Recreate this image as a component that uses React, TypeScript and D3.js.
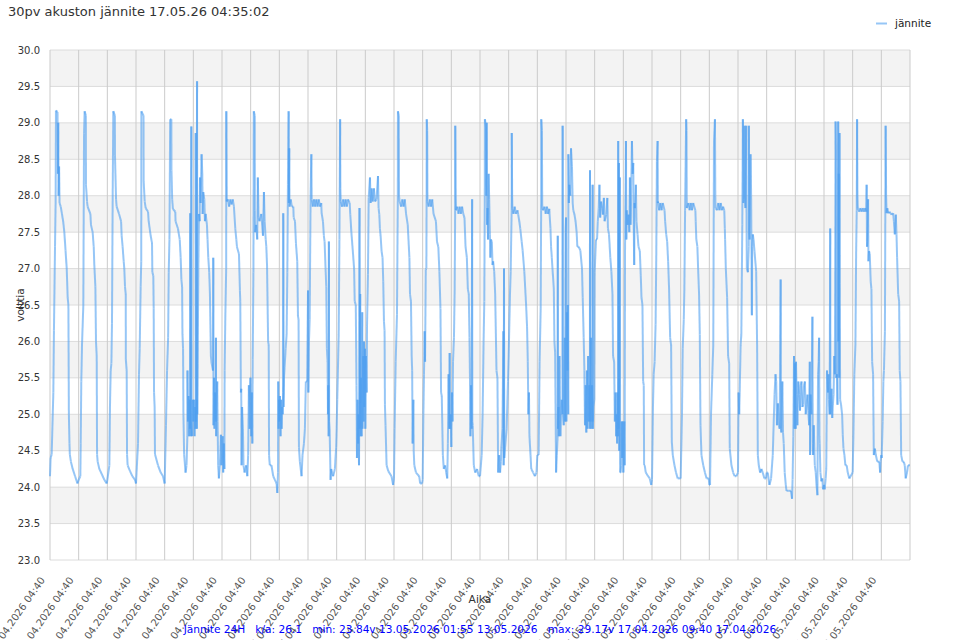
import * as d3 from 'd3';

// Each day runs from 04:40 to 04:40 the next morning.
// Points are [hours after 04:40, volts].
type Reading = [number, number];

const apr17: Reading[] = [[0,24.15],[0.5,24.4],[1.4,24.45],[2.8,25.3],[3.3,26.15],[4.2,27.3],[4.7,27.9],[5.0,29.17],[6.3,29.15],[6.6,28.3],[6.9,29.0],[7.2,28.0],[7.6,28.4],[8.0,27.9],[9,27.85],[10,27.75],[11,27.65],[12,27.5],[13,27.25],[14,27.0],[14.8,26.6],[15.4,26.5],[15.8,25.0],[16.3,24.6],[16.6,24.45],[17.5,24.35],[19,24.25],[21,24.15],[23,24.05]];
const apr18: Reading[] = [[0,24.1],[1.4,24.15],[1.7,24.6],[2.2,25.45],[2.8,25.95],[3.6,26.35],[3.9,26.5],[4.5,28.85],[5.0,29.16],[6.0,29.1],[6.1,28.15],[7.0,27.92],[7.5,27.85],[9.8,27.75],[10.3,27.6],[11.7,27.5],[12.6,27.3],[13.1,27.05],[14.0,26.75],[14.5,26.0],[15.1,25.8],[15.4,24.45],[15.9,24.35],[17.3,24.25],[19.3,24.18],[21.5,24.1],[23.5,24.05]];
const apr19: Reading[] = [[0,24.1],[1.7,24.3],[2.2,25.1],[2.8,25.6],[3.4,25.7],[3.9,26.25],[4.5,28.05],[5.0,29.16],[6.3,29.1],[6.4,28.55],[7.3,27.95],[7.8,27.85],[9.8,27.75],[11.5,27.65],[12.0,27.45],[12.8,27.3],[13.7,27.1],[14.2,27.0],[14.8,26.75],[15.4,26.65],[15.5,25.75],[16.2,25.6],[16.5,24.45],[17.0,24.3],[19.0,24.22],[20.9,24.15],[23.2,24.1]];
const apr20: Reading[] = [[0,24.05],[1.7,24.6],[2.5,25.55],[3.1,25.9],[3.9,26.75],[4.4,27.1],[4.5,29.16],[6.3,29.1],[6.4,28.2],[7.3,27.92],[8.1,27.83],[10.1,27.78],[10.6,27.65],[12.3,27.45],[13.4,27.35],[13.7,26.95],[14.5,26.9],[14.8,26.45],[15.1,25.3],[15.6,25.1],[15.9,24.45],[18.4,24.3],[20.7,24.2],[22.6,24.15]];
const apr21: Reading[] = [[0,24.05],[1.1,24.85],[2.0,25.6],[2.9,26.05],[3.4,26.95],[4.0,27.4],[4.6,29.05],[5.6,29.05],[5.7,28.35],[6.3,27.95],[6.9,27.82],[8.9,27.78],[9.1,27.65],[11.1,27.55],[12.6,27.4],[13.4,27.15],[14.0,26.85],[14.6,26.75],[14.9,26.1],[15.4,25.9],[15.7,25.0],[16.3,24.45],[17.5,24.2],[18.3,24.3],[19.0,24.7],[19.1,25.6],[19.5,24.9],[20.0,25.25],[20.5,24.7],[21.0,25.2],[21.3,24.8],[21.4,27.76],[21.5,24.9],[22.0,24.7],[22.2,25.2],[22.3,28.95],[22.5,24.9],[23.0,24.7],[23.5,25.2]];
const apr22: Reading[] = [[0,24.9],[0.5,25.2],[1.0,24.7],[1.5,25.1],[1.9,24.8],[2.0,28.86],[2.3,24.9],[2.8,25.2],[3.0,24.8],[3.1,29.57],[3.3,25.0],[3.6,25.7],[4.2,27.0],[4.7,27.75],[5.3,27.65],[5.6,28.25],[6.1,27.9],[6.9,28.57],[7.5,28.3],[7.8,27.75],[8.3,28.05],[9.2,27.95],[9.7,27.65],[10.3,27.75],[11.4,27.6],[11.9,27.4],[12.5,27.15],[13.3,26.95],[13.9,26.65],[14.7,25.8],[15.3,25.7],[16.5,25.6],[16.7,27.15],[16.9,24.85],[17.3,25.5],[17.7,24.8],[18.2,25.3],[18.7,24.9],[18.9,26.05],[19.1,24.7],[20.0,25.45],[20.3,24.9],[20.8,24.3],[21.4,24.12],[22.2,24.3],[23.1,24.72],[23.5,24.3]];
const apr23: Reading[] = [[0,24.4],[0.6,24.7],[1.0,24.2],[1.5,24.6],[2.0,24.25],[2.2,25.6],[2.8,26.35],[3.5,27.0],[3.6,29.16],[3.9,27.92],[5.0,27.95],[6.0,27.85],[7.0,27.95],[8.0,27.88],[9.0,27.95],[10.0,27.85],[11.1,27.55],[12.0,27.4],[12.5,27.3],[14.2,27.2],[15.0,26.7],[15.3,26.55],[15.8,25.3],[16.1,25.35],[16.4,24.3],[16.8,25.1],[17.5,24.8],[18.0,24.3],[18.9,24.2],[20.3,24.3],[21.2,24.15],[21.9,24.44],[22.5,25.4],[23.2,24.8],[23.6,25.5]];
const apr24: Reading[] = [[0,25.5],[0.5,24.7],[1.0,25.3],[1.4,24.6],[1.7,25.75],[2.3,26.95],[2.6,29.16],[3.4,29.1],[3.5,27.8],[3.7,27.5],[4.6,27.6],[5.5,27.4],[6.0,28.25],[6.6,27.7],[7.4,27.65],[8.9,27.75],[10.3,27.45],[11.1,28.05],[11.7,27.65],[12.6,27.4],[13.1,27.3],[13.7,27.05],[14.6,26.0],[15.1,25.95],[15.4,24.44],[16.0,24.3],[17.4,24.3],[18.9,24.15],[20.3,24.1],[21.7,24.05],[22.3,23.92],[22.9,24.2],[23.1,25.45],[23.4,24.8],[23.7,25.2]];
const apr25: Reading[] = [[0,24.9],[0.5,25.25],[1.0,24.7],[1.5,25.2],[1.9,24.8],[2.5,25.1],[2.8,25.0],[3.2,25.3],[3.3,27.76],[3.5,25.1],[3.9,25.5],[4.4,25.65],[5.3,25.9],[6.1,26.1],[6.7,26.95],[7.2,28.15],[7.8,29.16],[8.0,27.9],[8.3,28.65],[8.5,27.85],[9.5,27.95],[10.5,27.85],[11.7,27.85],[12.0,27.7],[13.1,27.65],[13.9,27.35],[15.0,27.1],[15.6,26.35],[16.1,26.3],[16.4,24.55],[17.2,24.35],[18.6,24.15],[19.4,24.44],[20.6,24.6],[21.4,24.8],[22.2,25.45],[23.3,25.45]];
const apr26: Reading[] = [[0,26.7],[0.3,25.3],[0.8,26.0],[1.4,26.3],[2.2,28.05],[2.8,28.57],[3.1,27.95],[4,27.85],[5,27.95],[6,27.85],[7,27.95],[8,27.85],[9,27.95],[10,27.85],[11.1,27.9],[11.4,27.76],[12.5,27.65],[13.3,27.45],[13.9,27.37],[14.7,27.0],[15.3,26.75],[15.8,25.9],[16.4,25.72],[16.7,25.0],[17.0,25.4],[17.3,24.7],[17.5,27.37],[17.7,24.9],[18.1,24.8],[18.9,24.1],[19.4,24.25],[21,24.15],[22.5,24.25],[23.6,24.55]];
const apr27: Reading[] = [[0,24.8],[0.5,25.2],[0.9,25.5],[1.7,26.1],[2.3,27.4],[2.9,29.05],[3.1,28.1],[3.4,27.92],[4.5,27.85],[5.5,27.95],[6.5,27.85],[7.5,27.95],[8.5,27.85],[9.5,27.95],[10.9,27.9],[11.4,27.74],[12.3,27.5],[13.7,27.2],[14.6,27.0],[15.1,26.55],[16.0,26.5],[16.6,25.4],[17.0,24.4],[17.5,25.2],[18.0,24.6],[18.3,25.0],[18.7,24.3],[19.0,25.2],[19.1,27.83],[19.3,24.8],[19.7,26.65],[19.9,24.7],[20.4,25.5],[20.9,24.7],[21.4,26.4],[21.6,24.8],[22.3,25.8],[22.6,24.9],[22.9,26.0],[23.2,25.1],[23.7,25.9]];
const apr28: Reading[] = [[0,24.8],[0.5,25.8],[1.1,25.3],[1.4,26.2],[2.2,26.92],[2.8,27.97],[3.9,28.25],[4.4,27.9],[5.3,28.1],[6.1,27.92],[7.2,28.1],[8.1,27.92],[9.4,27.95],[10.6,28.27],[11.1,27.83],[11.7,27.74],[12.2,27.55],[12.8,27.45],[13.6,27.24],[14.4,27.15],[15.0,26.82],[15.6,26.27],[16.1,26.15],[16.4,25.13],[16.9,24.85],[17.8,24.3],[19.2,24.22],[21.9,24.15],[23.3,24.03]];
const apr29: Reading[] = [[0,24.12],[0.5,24.8],[1.4,25.72],[2.5,26.37],[3.2,28.0],[3.3,29.16],[4.0,29.1],[4.2,28.0],[4.7,27.92],[6,27.85],[7,27.95],[8,27.85],[9,27.95],[10.1,27.75],[11.5,27.6],[12.9,27.15],[13.4,26.65],[14.2,26.55],[14.8,25.8],[15.2,25.6],[15.6,24.6],[16.2,25.2],[16.5,24.5],[17.0,24.3],[18.4,24.2],[21.1,24.15],[21.9,24.05],[23.5,24.05]];
const apr30: Reading[] = [[0,24.1],[0.6,25.0],[1.1,25.55],[1.7,26.14],[2.0,25.72],[2.6,26.99],[3.1,27.0],[3.3,28.0],[3.4,29.05],[3.8,28.9],[4.0,27.92],[5,27.85],[6,27.95],[7,27.85],[8,27.95],[9.1,27.75],[11.1,27.65],[12.0,27.37],[13.1,27.3],[14.0,26.96],[14.9,26.45],[15.4,25.3],[16.0,25.25],[16.9,24.44],[17.7,24.25],[18.9,24.3],[19.7,24.2],[20.6,24.12],[21.1,24.6],[21.7,25.55],[22.2,24.8],[22.6,25.84],[23.0,24.8],[23.4,25.0]];
const may01: Reading[] = [[0,24.55],[0.55,25.3],[1.0,24.9],[1.4,25.72],[2.2,26.05],[2.8,26.72],[3.2,27.8],[3.3,28.96],[3.6,28.0],[3.9,27.8],[5,27.85],[6,27.75],[7,27.85],[8,27.75],[9,27.85],[10,27.75],[11.0,27.7],[11.9,27.3],[13.0,27.15],[13.8,26.72],[14.6,26.65],[15.2,26.05],[15.6,25.5],[16.0,24.7],[16.5,25.4],[17.0,24.8],[17.4,27.95],[17.6,24.9],[17.9,24.85],[18.8,24.3],[20,24.2],[21.5,24.25],[23,24.15]];
const may02: Reading[] = [[0,24.15],[1.4,24.44],[2.2,25.0],[3.0,26.0],[3.6,26.55],[4.0,28.0],[4.1,29.05],[5.0,28.95],[5.3,28.0],[5.6,29.0],[5.9,27.6],[6.3,27.83],[6.7,27.4],[7.2,28.3],[7.7,27.95],[8.3,27.47],[8.7,27.15],[9.1,27.4],[9.9,27.37],[10.5,27.05],[11.0,27.1],[11.9,26.96],[12.7,26.65],[13.8,25.6],[14.6,25.5],[15.2,24.2],[16.0,24.44],[16.8,24.2],[17.5,24.35],[17.9,24.55],[18.8,24.8],[19.6,26.14],[19.8,24.3],[20.1,27.0],[20.3,24.4],[21.0,24.55],[22.3,24.8],[23.4,25.45]];
const may03: Reading[] = [[0,25.8],[1.1,26.65],[1.7,26.96],[2.5,27.8],[2.6,28.86],[2.9,28.0],[3.1,27.83],[4,27.75],[5,27.85],[6,27.75],[7.4,27.8],[8.0,27.74],[8.9,27.65],[9.7,27.55],[10.9,27.37],[11.7,27.25],[13.1,26.96],[14.6,26.5],[15.4,26.2],[16.0,25.72],[16.5,25.0],[17.0,25.3],[17.4,24.7],[18.3,24.44],[18.9,24.25],[20.5,24.2],[22,24.15],[23.3,24.2]];
const may04: Reading[] = [[0,24.44],[1.1,24.44],[1.9,25.72],[2.8,26.45],[3.2,27.8],[3.3,29.05],[3.8,28.9],[4.1,27.85],[4.7,27.8],[6,27.85],[7,27.75],[8,27.85],[9,27.75],[10,27.82],[11.0,27.55],[11.5,27.3],[12.1,27.15],[13.8,26.72],[14.3,26.0],[14.9,25.85],[15.7,24.2],[16.3,24.44],[17.0,24.7],[17.1,27.45],[17.3,24.8],[17.7,25.1],[18.0,24.7],[18.5,25.8],[19.0,25.1],[19.3,24.7],[20.0,25.1],[20.4,25.2],[21.1,25.0],[21.2,28.96],[21.4,25.0],[22.1,24.85],[22.5,25.4],[23.0,26.05],[23.2,24.9],[23.6,27.5]];
const may05: Reading[] = [[0,27.7],[0.3,24.9],[0.8,26.4],[1.2,25.6],[1.5,26.5],[1.9,25.0],[2.0,28.57],[2.4,27.9],[2.8,28.15],[3.6,28.0],[4.2,28.65],[5.0,28.4],[5.6,27.9],[6.1,27.8],[7.0,27.75],[8.0,27.65],[8.9,27.5],[9.5,27.3],[10.6,27.3],[12.0,27.25],[13.4,27.0],[14.0,26.6],[14.8,26.05],[15.4,25.6],[15.9,24.85],[16.5,25.4],[17.0,24.75],[17.5,25.6],[18.0,24.8],[18.5,25.8],[19.0,24.9],[19.5,25.4],[20.0,24.8],[20.1,28.35],[20.3,24.9],[20.9,26.05],[21.3,24.8],[21.8,25.4],[22.2,24.9],[22.3,28.15],[22.5,24.8],[23.0,25.1],[23.7,25.2]];
const may06: Reading[] = [[0,26.95],[1.1,27.4],[2.0,27.4],[2.6,27.65],[3.4,27.83],[4.0,28.15],[4.6,27.7],[5.4,27.92],[6.3,27.83],[6.9,27.74],[7.7,27.97],[8.3,27.65],[9.7,27.74],[10.6,27.97],[11.1,27.55],[12.0,27.47],[13.1,27.15],[14.0,26.96],[14.9,26.65],[15.4,25.8],[16.3,25.72],[16.9,24.9],[17.5,25.3],[18.0,24.7],[18.3,25.0],[18.8,24.6],[19.2,25.3],[19.6,24.7],[19.7,28.75],[20.0,24.8],[20.3,28.45],[20.6,24.5],[21.1,28.25],[21.3,24.2],[21.7,24.2],[22.2,24.3],[22.6,24.9],[23.0,24.4],[23.4,24.9]];
const may07: Reading[] = [[0,24.2],[0.8,24.9],[1.1,24.3],[1.4,27.2],[2.2,28.75],[2.5,27.4],[2.8,27.8],[3.6,27.6],[4.4,27.74],[5.0,27.5],[5.5,28.25],[6.0,27.6],[6.3,27.74],[7.2,28.75],[7.8,28.3],[8.3,28.45],[8.7,27.6],[9.1,27.05],[9.4,27.9],[9.7,27.83],[10.5,28.15],[11.0,27.65],[11.9,27.47],[12.7,27.3],[13.8,27.24],[14.6,26.9],[15.2,26.6],[16.0,26.5],[16.6,25.45],[17.1,25.4],[17.4,24.3],[17.9,24.3],[18.8,24.2],[20.7,24.15],[22.1,24.12],[23.4,24.03]];
const may08: Reading[] = [[0,24.1],[0.3,24.44],[0.8,25.1],[1.4,25.55],[2.2,25.72],[3.0,26.23],[3.6,27.2],[4.1,28.47],[4.7,28.75],[4.9,27.9],[5.0,27.92],[6,27.8],[7,27.9],[8,27.8],[9,27.9],[10.5,27.8],[11.0,27.65],[11.9,27.47],[12.7,27.37],[13.5,27.1],[14.3,26.72],[15.2,26.05],[16.0,25.95],[16.6,24.62],[17.4,24.44],[18.8,24.3],[20.1,24.2],[21.5,24.12]];
const may09: Reading[] = [[0,24.12],[1.1,25.0],[1.7,25.9],[2.6,26.3],[3.1,26.72],[3.7,27.8],[4.6,29.05],[4.9,28.9],[5.1,27.83],[6.5,27.9],[7.5,27.8],[8.5,27.9],[9.5,27.8],[10.5,27.9],[12.3,27.8],[12.6,27.65],[13.1,27.4],[14.0,27.3],[14.6,27.0],[15.4,26.65],[16.0,26.1],[16.6,24.85],[17.4,24.44],[18.9,24.3],[20.3,24.2],[21.7,24.12],[23.5,24.12]];
const may10: Reading[] = [[0,24.03],[0.6,24.03],[1.4,25.0],[2.5,25.55],[3.3,25.95],[3.9,28.75],[4.7,29.05],[5.0,28.0],[5.2,27.83],[6.5,27.8],[7.5,27.9],[8.5,27.8],[9.5,27.9],[10.5,27.8],[11.5,27.85],[12.5,27.8],[12.97,27.55],[13.2,27.4],[13.8,27.0],[14.9,26.6],[15.7,25.8],[16.6,25.7],[17.1,24.53],[18.5,24.3],[19.9,24.2],[21.2,24.15],[22.6,24.15]];
const may11: Reading[] = [[0,24.2],[0.5,25.3],[1.0,25.0],[1.4,25.3],[2.2,25.95],[2.8,26.1],[3.6,27.6],[4.1,29.05],[4.5,27.9],[5.0,27.95],[5.5,28.96],[6.0,27.85],[6.3,27.83],[6.9,28.96],[7.2,27.5],[7.4,27.0],[8.3,26.95],[9.0,27.3],[9.1,28.96],[9.4,27.5],[9.7,27.4],[10.5,28.57],[11.0,28.0],[11.3,27.2],[11.6,26.36],[11.9,27.3],[12.4,27.47],[13.0,27.4],[13.8,27.24],[15.2,26.96],[16.0,25.95],[16.6,24.44],[17.4,24.3],[18.5,24.2],[19.6,24.25],[20.7,24.2],[22.1,24.12],[23.4,24.12]];
const may12: Reading[] = [[0,24.2],[0.9,24.2],[2.3,24.03],[3.7,24.12],[5.1,24.44],[6.0,24.95],[6.6,25.27],[7.4,25.55],[8.0,25.45],[8.6,24.85],[9.4,25.15],[10.3,24.85],[10.9,24.8],[11.7,26.85],[12.0,24.8],[12.3,24.75],[13.1,25.45],[13.7,24.75],[14.3,24.6],[15.1,24.2],[16.0,24.03],[16.6,23.95],[18.5,23.95],[20.3,23.95],[21.25,23.84],[21.7,24.1],[22.3,24.7],[22.9,25.8],[23.3,24.8],[23.7,25.7]];
const may13: Reading[] = [[0,25.0],[0.3,24.8],[0.55,25.72],[1.1,25.27],[1.7,24.85],[2.5,25.45],[3.3,25.27],[3.9,25.05],[4.5,25.4],[5.2,25.45],[5.9,25.1],[6.6,25.13],[7.3,25.4],[8.0,25.45],[8.7,25.0],[9.4,25.13],[10.2,25.27],[10.8,25.05],[11.6,24.85],[12.1,25.72],[12.4,24.44],[12.7,25.27],[13.5,25.0],[14.3,26.34],[14.6,24.6],[14.9,24.44],[15.4,24.85],[16.3,24.3],[17.1,24.2],[17.7,24.03],[18.5,23.89],[19.0,25.55],[19.5,25.72],[19.9,26.05],[20.2,24.7],[20.4,24.6],[21.0,24.2],[21.8,24.08],[22.6,24.12],[23.2,23.97]];
const may14: Reading[] = [[0,24.03],[0.55,23.97],[1.4,24.12],[1.9,24.25],[2.5,25.6],[3.3,25.3],[3.8,25.55],[4.1,25.2],[4.7,25.0],[5.2,27.55],[5.4,25.0],[5.8,25.13],[6.3,25.35],[6.9,24.95],[7.4,25.13],[8.0,25.27],[8.6,25.8],[9.1,25.55],[9.7,29.02],[10.0,28.6],[10.2,25.5],[10.8,25.55],[11.3,25.13],[11.9,29.02],[12.1,26.0],[12.4,28.3],[12.7,25.5],[13.0,28.86],[13.2,26.8],[13.5,25.2],[14.3,25.13],[15.2,24.99],[15.7,24.72],[16.3,24.53],[17.1,24.44],[17.9,24.3],[19.0,24.3],[19.9,24.2],[21.2,24.12]];
const may15: Reading[] = [[0,24.2],[0.6,24.7],[1.4,25.55],[2.3,25.95],[2.9,27.2],[3.4,27.8],[3.7,29.05],[4.0,28.0],[4.3,27.83],[5.5,27.78],[6.5,27.83],[7.5,27.78],[8.5,27.83],[9.5,27.78],[10.5,27.83],[11.4,27.78],[11.7,28.15],[12.0,27.3],[12.3,27.37],[12.9,27.95],[13.2,27.1],[13.7,27.24],[14.3,27.2],[15.1,26.82],[15.7,26.72],[16.3,25.72],[17.1,25.55],[17.7,24.44],[18.6,24.53],[19.4,24.44],[20.6,24.35],[22.3,24.35],[23.0,24.2],[23.4,24.35]];
const may16: Reading[] = [[0,24.44],[0.3,24.4],[1.1,24.9],[1.7,25.45],[2.2,25.6],[3.0,26.14],[3.6,28.96],[4.0,28.0],[4.4,27.76],[5.0,27.83],[5.8,27.76],[7,27.78],[8.5,27.74],[9.9,27.76],[10.5,27.65],[11.3,27.47],[12.1,27.74],[12.7,27.47],[13.2,27.15],[14.1,26.65],[14.9,26.55],[15.4,25.6],[16.0,25.45],[16.6,24.44],[17.7,24.35],[18.8,24.35],[19.6,24.3],[20.4,24.12],[21.5,24.2],[22.3,24.3],[23.2,24.3],[24,24.3]];

const dailyReadings = [
  apr17, apr18, apr19, apr20, apr21, apr22, apr23, apr24, apr25, apr26,
  apr27, apr28, apr29, apr30, may01, may02, may03, may04, may05, may06,
  may07, may08, may09, may10, may11, may12, may13, may14, may15, may16,
];

const voltTicks = [23.0, 23.5, 24.0, 24.5, 25.0, 25.5, 26.0, 26.5, 27.0, 27.5, 28.0, 28.5, 29.0, 29.5, 30.0];

const chartTitle = '30pv akuston jännite 17.05.26 04:35:02';
const seriesName = 'jännite';
const footerItems = [
  'Jännite 24H',
  'k/a: 26.1',
  'min: 23.84v 13.05.2026 01:55 13.05.2026',
  'max: 29.17v 17.04.2026 09:40 17.04.2026',
];

const START = new Date(Date.UTC(2026, 3, 17, 4, 40));
const HOUR = 3600 * 1000;

const LINE = 'rgba(80, 160, 240, 0.6)';
const FONT = '"DejaVu Sans", Verdana, sans-serif';

export default function App() {
  const width = 960;
  const height = 640;
  const plot = { left: 50, right: 910, top: 50, bottom: 560 };

  const x = d3
    .scaleUtc()
    .domain([START, d3.utcDay.offset(START, dailyReadings.length)])
    .range([plot.left, plot.right]);
  const y = d3.scaleLinear().domain([23, 30]).range([plot.bottom, plot.top]);

  const dayStarts = d3.range(dailyReadings.length + 1).map((i) => d3.utcDay.offset(START, i));
  const fmt = d3.utcFormat('%d.%m.%Y %H:%M');

  const points = dailyReadings.flatMap((day, i) =>
    day.map(([h, v]) => ({ t: new Date(dayStarts[i].getTime() + h * HOUR), v }))
  );
  const segments = d3.pairs(points);

  // shaded bands: every other half-volt strip, starting from the top one
  const bands = d3.pairs(voltTicks).filter((_, i) => i % 2 === 1);

  return (
    <svg
      width={width}
      height={height}
      style={{ position: 'absolute', left: 0, top: 0, background: '#fff' }}
      fontFamily={FONT}
    >
      <text x={8} y={16} fontSize={13} fill="#333">
        {chartTitle}
      </text>

      {/* legend */}
      <line x1={876} x2={887} y1={23.5} y2={23.5} stroke={LINE} strokeWidth={2} />
      <text x={895} y={27} fontSize={10.5} fill="#222">
        {seriesName}
      </text>

      {/* alternate bands */}
      {bands.map(([lo, hi]) => (
        <rect
          key={`b-${lo}`}
          x={plot.left}
          width={plot.right - plot.left}
          y={y(hi)}
          height={y(lo) - y(hi)}
          fill="#f3f3f3"
        />
      ))}

      {/* horizontal grid */}
      {voltTicks.map((v) => (
        <line
          key={`h-${v}`}
          x1={plot.left}
          x2={plot.right}
          y1={y(v)}
          y2={y(v)}
          stroke="#dcdcdc"
          strokeWidth={1}
        />
      ))}

      {/* vertical grid, one per day */}
      {dayStarts.map((d) => (
        <line
          key={`v-${d.getTime()}`}
          x1={x(d)}
          x2={x(d)}
          y1={plot.top}
          y2={plot.bottom}
          stroke="#cbcbcb"
          strokeWidth={1}
        />
      ))}

      {/* y labels */}
      {voltTicks.map((v) => (
        <text
          key={`yl-${v}`}
          x={40}
          y={y(v)}
          dy="0.35em"
          textAnchor="end"
          fontSize={10}
          fill="#333"
        >
          {v.toFixed(1)}
        </text>
      ))}

      {/* x labels */}
      {dayStarts.slice(0, -1).map((d) => (
        <text
          key={`xl-${d.getTime()}`}
          transform={`translate(${x(d) - 4.5}, 580) rotate(-55)`}
          textAnchor="end"
          fontSize={10}
          fill="#555"
        >
          {fmt(d)}
        </text>
      ))}

      {/* the voltage trace, one segment at a time so overlaps darken */}
      <g stroke={LINE} strokeWidth={2} strokeLinecap="butt">
        {segments.map(([a, b], i) => (
          <line key={i} x1={x(a.t)} y1={y(a.v)} x2={x(b.t)} y2={y(b.v)} />
        ))}
      </g>

      <text x={(plot.left + plot.right) / 2} y={603} textAnchor="middle" fontSize={10.67} fill="#333">
        Aika
      </text>
      <text
        transform={`translate(24, ${(plot.top + plot.bottom) / 2}) rotate(-90)`}
        textAnchor="middle"
        fontSize={10.67}
        fill="#333"
      >
        volttia
      </text>

      <text
        x={(plot.left + plot.right) / 2}
        y={633}
        textAnchor="middle"
        fontSize={10.6}
        fill="#0000ff"
        style={{ whiteSpace: 'pre' }}
      >
        {footerItems.join('   ')}
      </text>
    </svg>
  );
}
